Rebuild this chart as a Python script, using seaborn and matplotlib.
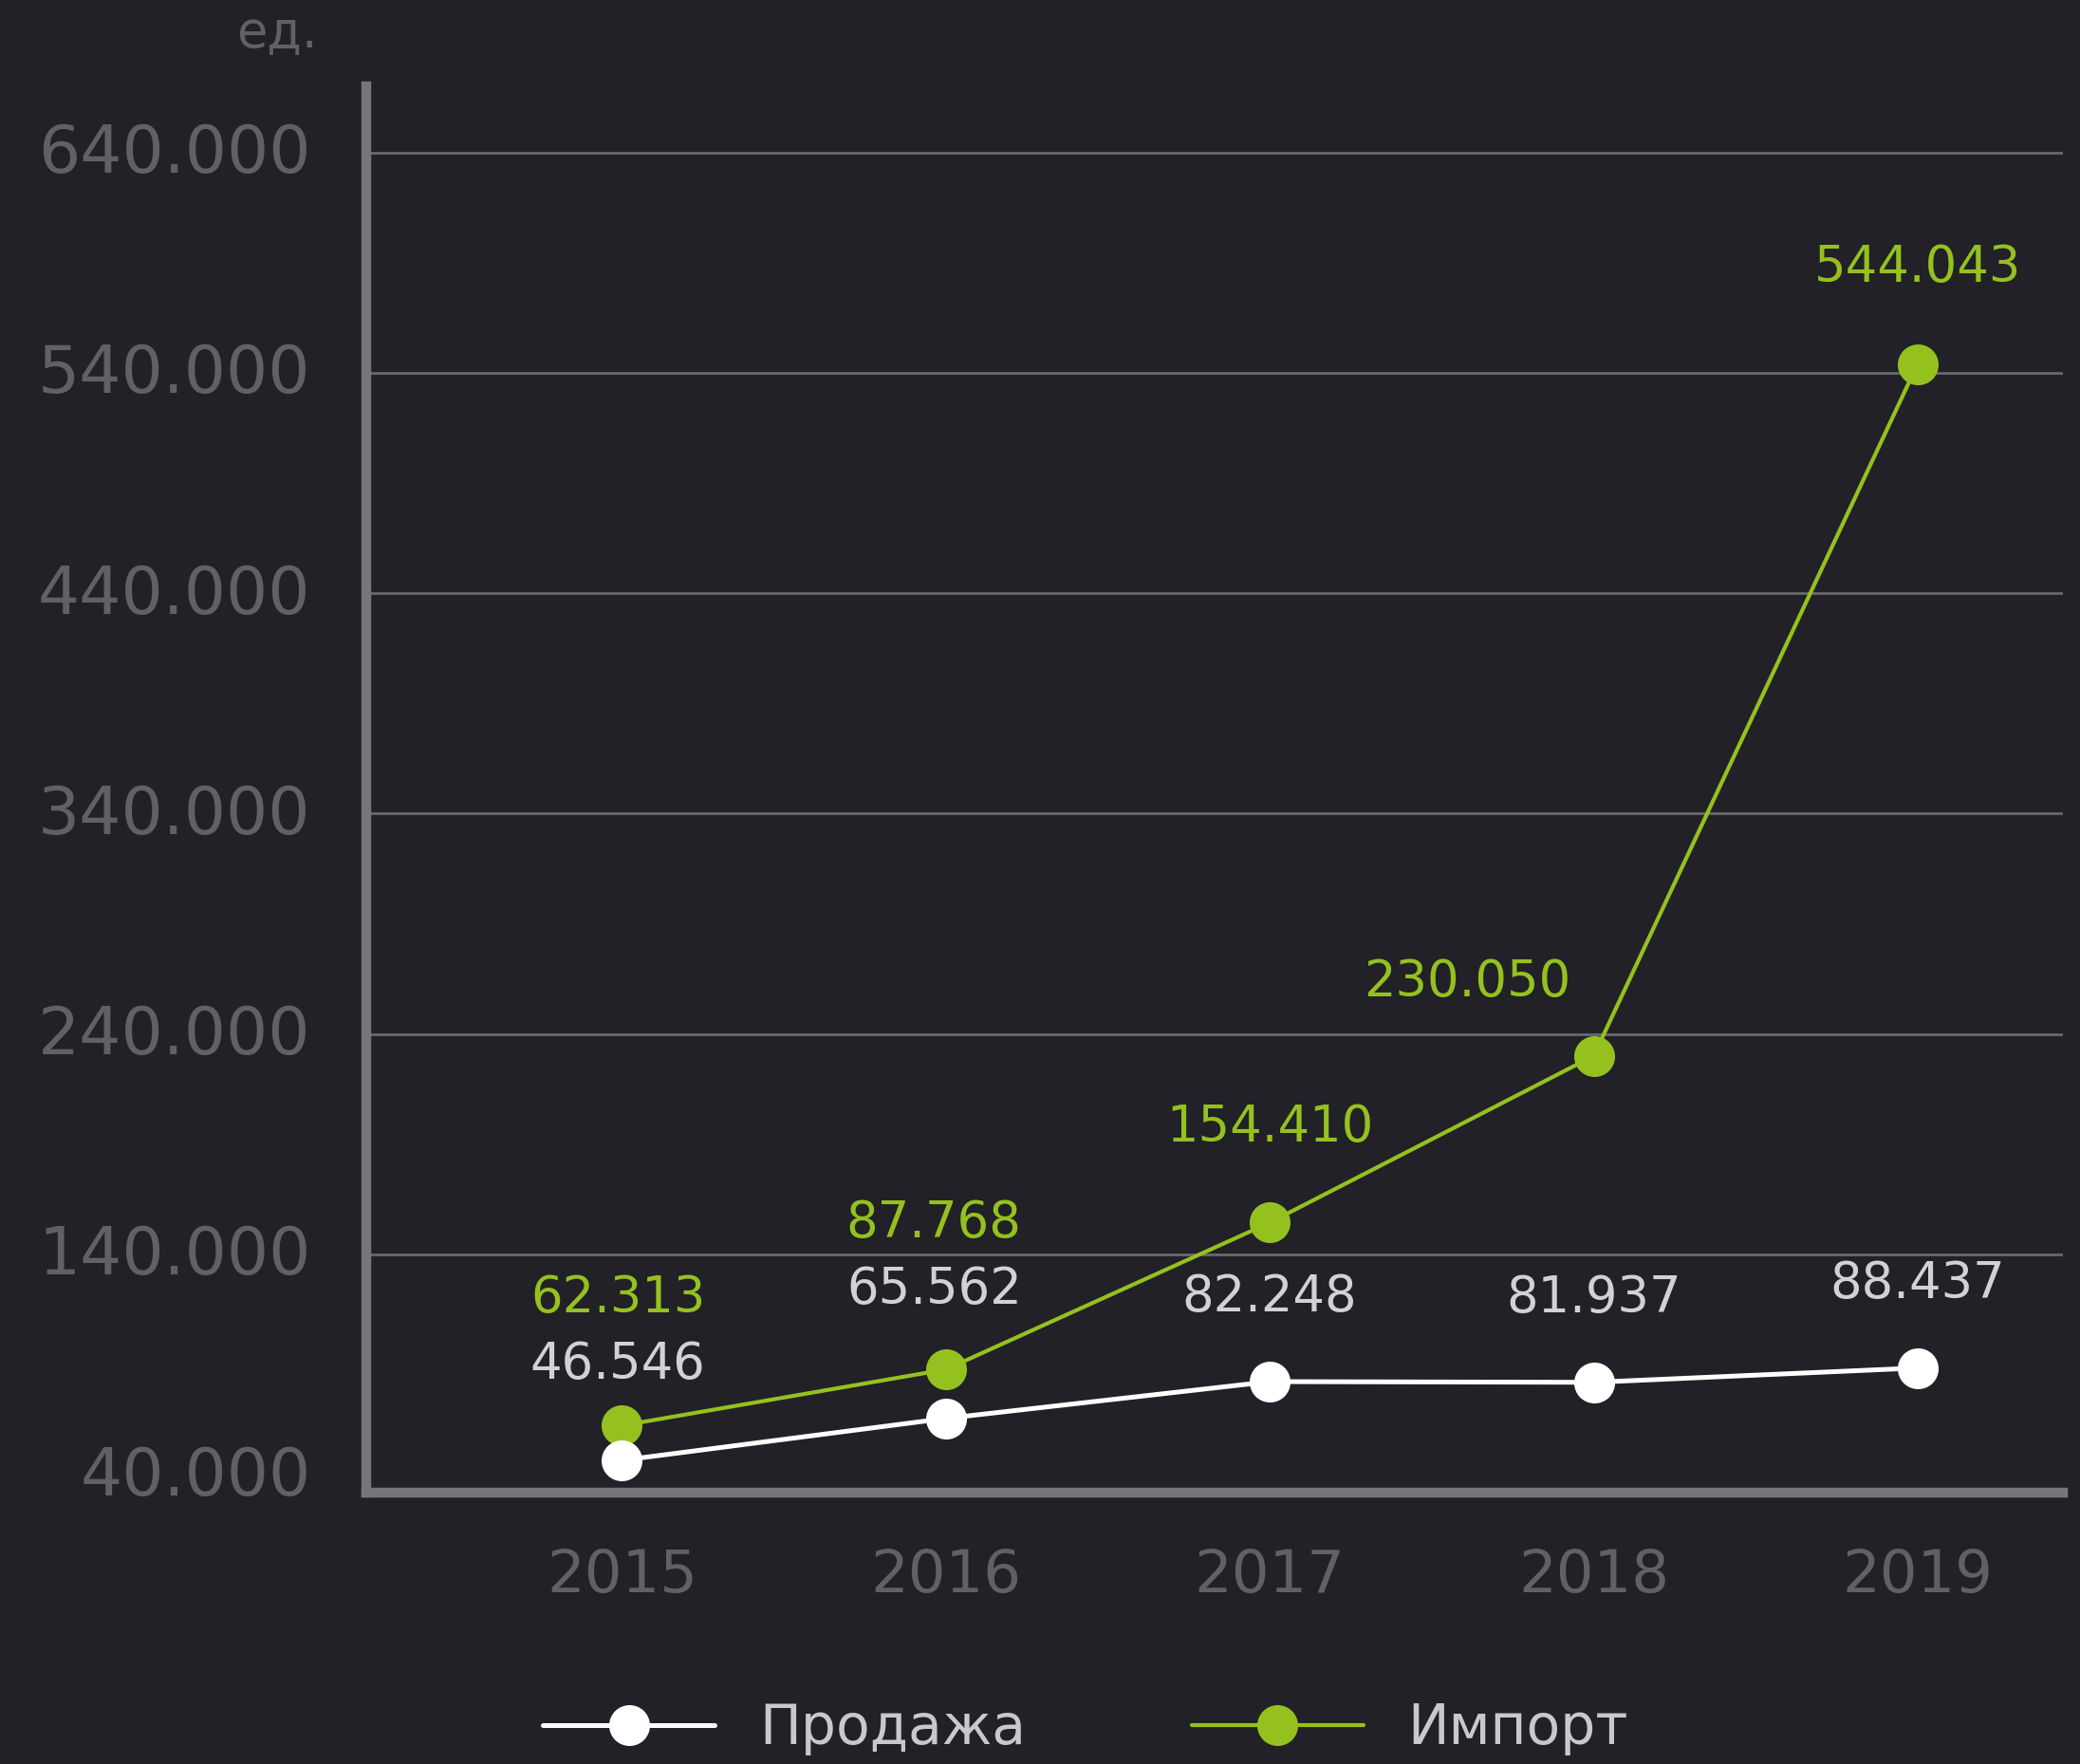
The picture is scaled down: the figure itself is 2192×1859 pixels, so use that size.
import matplotlib
matplotlib.use("Agg")
import matplotlib.pyplot as plt
import matplotlib.transforms as mtransforms
import pandas as pd
import seaborn as sns

# --- data ---
years = [2015, 2016, 2017, 2018, 2019]
sales = [46546, 65562, 82248, 81937, 88437]
imports = [62313, 87768, 154410, 230050, 544043]
sales_labels = ["46.546", "65.562", "82.248", "81.937", "88.437"]
import_labels = ["62.313", "87.768", "154.410", "230.050", "544.043"]
y_ticks = [40000, 140000, 240000, 340000, 440000, 540000, 640000]
y_tick_labels = ["40.000", "140.000", "240.000", "340.000", "440.000", "540.000", "640.000"]
series_names = ["Продажа", "Импорт"]

BG = "#212127"
GREEN = "#95c11f"
GRID = "#68686d"
SPINE = "#77777a"
TICK = "#606066"

sns.set_theme(style="dark")
plt.rcParams["font.family"] = ["DejaVu Sans"]

fig = plt.figure(figsize=(21.92, 18.59), dpi=100, facecolor=BG)
ax = fig.add_axes([0.176, 0.154, 0.816, 0.797])
ax.set_facecolor(BG)

df = pd.DataFrame({"year": years, "sales": sales, "imports": imports})

sns.lineplot(data=df, x="year", y="sales", ax=ax, color="white", linewidth=3.6,
             marker="o", markersize=31, markeredgewidth=0, label=series_names[0], zorder=4)
sns.lineplot(data=df, x="year", y="imports", ax=ax, color=GREEN, linewidth=3,
             marker="o", markersize=31, markeredgewidth=0, label=series_names[1], zorder=3)

# value labels (offsets in points)
sales_off = [(-3, 73), (-9, 98), (0, 64), (0, 64), (0, 64)]
import_off = [(-3, 97), (-9, 111), (0, 72), (-96, 56), (0, 73)]
for x, v, t, o in zip(years, sales, sales_labels, sales_off):
    ax.annotate(t, (x, v), xytext=o, textcoords="offset points", ha="center", va="center",
                fontsize=38, color="#d2d2d6", zorder=6)
for x, v, t, o in zip(years, imports, import_labels, import_off):
    ax.annotate(t, (x, v), xytext=o, textcoords="offset points", ha="center", va="center",
                fontsize=38, color=GREEN, zorder=6)

ax.set_xlim(2014.21, 2019.45)
ax.set_ylim(32000, 670000)
ax.set_xticks(years)
ax.set_xticklabels([str(y) for y in years])
ax.set_yticks(y_ticks)
ax.set_yticklabels(y_tick_labels)
ax.tick_params(axis="y", length=0, pad=42, labelsize=50, labelcolor=TICK)
ax.tick_params(axis="x", length=0, pad=42, labelsize=45, labelcolor=TICK)
ax.set_xlabel("")
ax.set_ylabel("")

# lift y tick labels slightly, as in the original
lift = mtransforms.ScaledTranslation(0, 5 / 100, fig.dpi_scale_trans)
for lab in ax.get_yticklabels():
    lab.set_transform(lab.get_transform() + lift)

ax.grid(axis="y", color=GRID, lw=2)
ax.grid(axis="x", visible=False)
ax.get_ygridlines()[0].set_visible(False)

for side in ["top", "right"]:
    ax.spines[side].set_visible(False)
for side in ["left", "bottom"]:
    ax.spines[side].set_visible(True)
    ax.spines[side].set_color(SPINE)
    ax.spines[side].set_linewidth(7.5)
    ax.spines[side].set_zorder(5)

fig.text(0.133, 0.981, "ед.", fontsize=38, color=TICK, ha="center", va="center")

handles, labels = ax.get_legend_handles_labels()
ax.get_legend().remove()
fig.legend(handles, labels, loc="center", bbox_to_anchor=(0.522, 0.02), ncol=2,
           frameon=False, fontsize=42, labelcolor="#c9c9cd", handlelength=3.1,
           handletextpad=0.8, columnspacing=3.0)

fig.savefig("out.png", dpi=100, facecolor=BG)
